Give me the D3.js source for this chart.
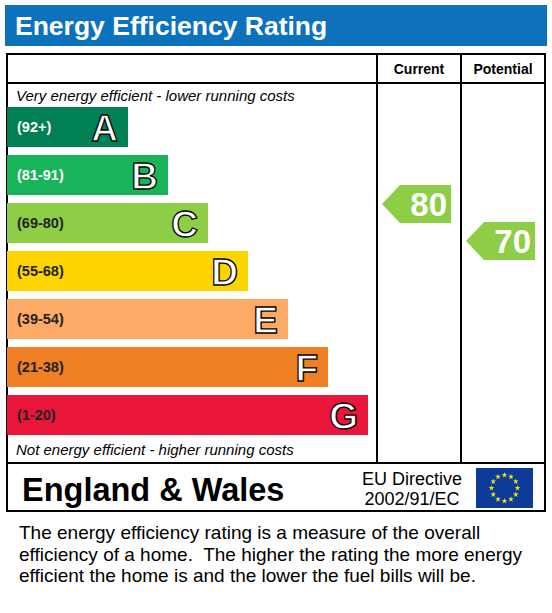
<!DOCTYPE html>
<html><head><meta charset="utf-8">
<script src="https://cdn.jsdelivr.net/npm/d3@7"></script>
<style>body{margin:0;background:#fff;font-family:"Liberation Sans",Arial,sans-serif}</style>
</head><body><svg id="c" width="552" height="613"></svg>
<script>
// bands
const letters = ["A","B","C","D","E","F","G"];
const ranges = ["(92+)","(81-91)","(69-80)","(55-68)","(39-54)","(21-38)","(1-20)"];
const colors = ["#008054","#19b459","#8dce46","#ffd500","#fcaa65","#ef8023","#e9153b"];
const labelColors = ["#fff","#fff","#222","#222","#222","#222","#222"];
// ratings
const ratingCols = ["Current","Potential"];
const ratingValues = [80, 70];
const ratingColors = ["#8dce46","#8dce46"];
const footText = ["The energy efficiency rating is a measure of the overall",
  "efficiency of a home.  The higher the rating the more energy",
  "efficient the home is and the lower the fuel bills will be."];

const svg = d3.select("#c");

// title bar
svg.append("rect").attr("x",5).attr("y",5).attr("width",542).attr("height",41).attr("fill","#0c72bb");
svg.append("text").attr("x",15).attr("y",35).attr("fill","#fff")
  .attr("font-size",26.5).attr("font-weight","bold").text("Energy Efficiency Rating");

// frame
const g = svg.append("g").attr("fill","none").attr("stroke","#000").attr("stroke-width",2);
g.append("rect").attr("x",7).attr("y",54).attr("width",538).attr("height",457);
g.append("line").attr("x1",7).attr("x2",545).attr("y1",83).attr("y2",83);
g.append("line").attr("x1",7).attr("x2",545).attr("y1",463).attr("y2",463);
g.append("line").attr("x1",377).attr("x2",377).attr("y1",54).attr("y2",463);
g.append("line").attr("x1",461).attr("x2",461).attr("y1",54).attr("y2",463);

const colX = d3.scaleOrdinal().domain(ratingCols).range([419,503]);
svg.selectAll(".hdr").data(ratingCols).enter().append("text")
  .attr("x",d=>colX(d)).attr("y",74).attr("text-anchor","middle")
  .attr("font-size",14).attr("font-weight","bold").text(d=>d);

svg.append("text").attr("x",16).attr("y",101).attr("font-size",15).attr("font-style","italic").text("Very energy efficient - lower running costs");
svg.append("text").attr("x",16).attr("y",455).attr("font-size",15).attr("font-style","italic").text("Not energy efficient - higher running costs");

// bands
const y = d3.scaleBand().domain(letters).range([107,435]).paddingInner(8/48).paddingOuter(0);
const w = d3.scaleLinear().domain([0,6]).range([128,368]);
const band = svg.selectAll(".band").data(letters).enter().append("g");
band.append("rect").attr("x",7).attr("y",d=>y(d)).attr("height",y.bandwidth())
  .attr("width",(d,i)=>w(i)-7).attr("fill",(d,i)=>colors[i]);
band.append("text").attr("x",17).attr("y",d=>y(d)+25).attr("font-size",14.5).attr("font-weight","bold")
  .attr("fill",(d,i)=>labelColors[i]).text((d,i)=>ranges[i]);
band.append("text").attr("x",(d,i)=>w(i)-10).attr("y",d=>y(d)+34).attr("text-anchor","end")
  .attr("font-size",37).attr("font-weight","bold").attr("fill","#fff").attr("stroke","#000").attr("stroke-width",1.3)
  .text(d=>d);

// rating arrows
const vy = d3.scaleLinear().domain([80,70]).range([204,241]);
ratingCols.forEach((c,i)=>{
  const cy = vy(ratingValues[i]), x0 = colX(c)-37, x1 = colX(c)+32;
  svg.append("path").attr("fill",ratingColors[i])
    .attr("d",`M${x0},${cy}L${x0+18},${cy-19}H${x1}V${cy+19}H${x0+18}Z`);
  svg.append("text").attr("x",x1-4).attr("y",cy+12).attr("text-anchor","end")
    .attr("font-size",33).attr("font-weight","bold").attr("fill","#fff").text(ratingValues[i]);
});

// footer row
svg.append("text").attr("x",22).attr("y",501).attr("font-size",32.5).attr("font-weight","bold").text("England & Wales");
svg.append("text").attr("x",412).attr("y",485).attr("text-anchor","middle").attr("font-size",18).text("EU Directive");
svg.append("text").attr("x",412).attr("y",505).attr("text-anchor","middle").attr("font-size",18).text("2002/91/EC");
svg.append("rect").attr("x",476).attr("y",468).attr("width",57).attr("height",40).attr("fill","#0d3b9a");
const star = d3.symbol().type(d3.symbolStar).size(10);
d3.range(12).forEach(k=>{
  const a = k*Math.PI/6;
  svg.append("path").attr("d",star).attr("fill","#ffe500")
    .attr("transform",`translate(${504.5+13*Math.sin(a)},${488-13*Math.cos(a)})`);
});

svg.selectAll(".foot").data(footText).enter().append("text")
  .attr("x",19).attr("y",(d,i)=>539+i*21.5).attr("font-size",19)
  .style("white-space","pre").text(d=>d);
</script></body></html>
